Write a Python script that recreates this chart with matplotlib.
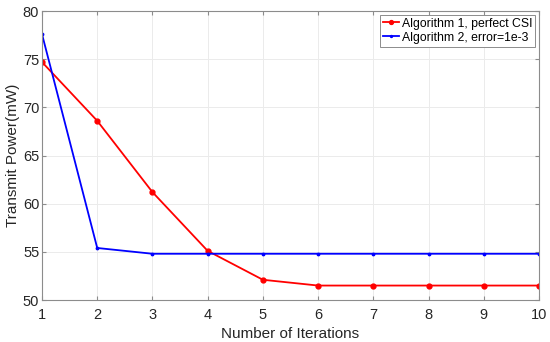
import numpy as np
import matplotlib
matplotlib.use('Agg')
import matplotlib.pyplot as plt

plt.rcParams['font.family'] = ['Liberation Sans', 'DejaVu Sans']

iterations = [1, 2, 3, 4, 5, 6, 7, 8, 9, 10]
alg1_power = [74.7, 68.6, 61.2, 55.1, 52.1, 51.5, 51.5, 51.5, 51.5, 51.5]
alg2_power = [77.6, 55.4, 54.8, 54.8, 54.8, 54.8, 54.8, 54.8, 54.8, 54.8]

fig = plt.figure(figsize=(5.5, 3.42), dpi=100)
ax = fig.add_axes([42/550, 1 - 300/342, (539-42)/550, (300-11)/342])

ax.plot(iterations, alg1_power, color='red', lw=1.3, marker='o', ms=3.5,
        label='Algorithm 1, perfect CSI')
ax.plot(iterations, alg2_power, color='blue', lw=1.3, marker='.', ms=3.5,
        label='Algorithm 2, error=1e-3')

ax.set_xlim(1, 10)
ax.set_ylim(50, 80)
ax.set_xticks(range(1, 11))
ax.set_yticks(range(50, 81, 5))
ax.grid(True, color='#ebebeb', lw=0.7)
ax.set_axisbelow(True)
for s in ax.spines.values():
    s.set_color('#8c8c8c')
    s.set_linewidth(0.8)
ax.tick_params(labelsize=10.5, labelcolor='#262626', color='#8c8c8c',
               direction='in', length=3, top=True, right=True)
ax.tick_params(axis='x', pad=6)
ax.tick_params(axis='y', pad=2)
ax.set_xlabel('Number of Iterations', fontsize=11, color='#262626', labelpad=3)
ax.set_ylabel('Transmit Power(mW)', fontsize=11, color='#262626', labelpad=2)

leg = ax.legend(loc='upper right', fontsize=8.8, handlelength=1.3,
                handletextpad=0.2, borderpad=0.25, labelspacing=0.15,
                fancybox=False, framealpha=1, borderaxespad=0.3,
                markerscale=0.8)
leg.get_frame().set_edgecolor('#8c8c8c')
leg.get_frame().set_linewidth(0.7)

fig.savefig('out.png', dpi=100)
